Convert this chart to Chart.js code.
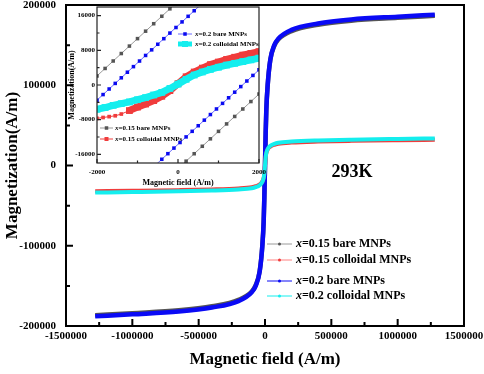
<!DOCTYPE html>
<html>
<head>
<meta charset="utf-8">
<script src="https://cdn.jsdelivr.net/npm/chart.js@4.4.1/dist/chart.umd.min.js"></script>
<style>
  body { margin: 0; background: #fff; }
  #wrap { position: relative; width: 484px; height: 374px; }
  #main { position: absolute; left: 0; top: 0; }
  #inset { position: absolute; left: 60px; top: 0; }
</style>
</head>
<body>
<div id="wrap">
  <canvas id="main" width="484" height="374"></canvas>
  <canvas id="inset" width="215" height="195"></canvas>
</div>
<script>
const FONT = "'Liberation Serif', 'Times New Roman', serif";

// main M-H loops (A/m)
const field = [-1280000, -1000000, -650000, -400000, -200000, -100000, -70000, -40000, -20000, -10000, -5000, 0,
  5000, 10000, 20000, 40000, 70000, 100000, 200000, 400000, 650000, 1000000, 1280000];
const bare015 = [-186500, -184000, -180500, -175500, -167500, -157000, -149000, -131500, -99500, -69500, -39700, 0,
  39700, 69500, 99500, 131500, 149000, 157000, 167500, 175500, 180500, 184000, 186500];
const colloid015 = [-32000, -31500, -30700, -29800, -28500, -27000, -25800, -23500, -20000, -15500, -10500, 0,
  10500, 15500, 20000, 23500, 25800, 27000, 28500, 29800, 30700, 31500, 32000];
const bare02 = [-188000, -185500, -182000, -177000, -169000, -158000, -150000, -132000, -100000, -70000, -40000, 0,
  40000, 70000, 100000, 132000, 150000, 158000, 169000, 177000, 182000, 185500, 188000];
const colloid02 = [-33700, -33100, -32200, -31200, -29800, -28300, -27000, -24500, -20500, -15500, -10000, 0,
  10000, 15500, 20500, 24500, 27000, 28300, 29800, 31200, 32200, 33100, 33700];
const labels = ['x=0.15 bare MNPs', 'x=0.15 colloidal MNPs', 'x=0.2 bare MNPs', 'x=0.2 colloidal MNPs'];
const colors = ['#555555', '#f03c3c', '#0a0af5', '#14eeee'];
const drawOrder = [4, 2, 3, 1]; // lower = on top
const xTickStep = 500000, yTickStep = 100000;

// inset: low field region
const grayUpH = [-2000, -1800, -1600, -1400, -1200, -1000, -800, -600, -400, -200, 0];
const grayUpM = [2100, 3820, 5540, 7260, 8980, 10700, 12420, 14140, 15860, 17580, 19300];
const grayDnH = [0, 200, 400, 600, 800, 1000, 1200, 1400, 1600, 1800, 2000];
const grayDnM = [-19300, -17580, -15860, -14140, -12420, -10700, -8980, -7260, -5540, -3820, -2100];
const blueUpH = [-2000, -1850, -1700, -1550, -1400, -1250, -1100, -950, -800, -650, -500, -350, -200, -50, 100, 250, 400, 550];
const blueUpM = [-3500, -2210, -920, 370, 1660, 2950, 4240, 5530, 6820, 8110, 9400, 10690, 11980, 13270, 14560, 15850, 17140, 18430];
const blueDnH = [-550, -400, -250, -100, 50, 200, 350, 500, 650, 800, 950, 1100, 1250, 1400, 1550, 1700, 1850, 2000];
const blueDnM = [-18430, -17140, -15850, -14560, -13270, -11980, -10690, -9400, -8110, -6820, -5530, -4240, -2950, -1660, -370, 920, 2210, 3500];
const redH = [-2000, -1850, -1700, -1550, -1400, -1200, -1000, -800, -600, -400, -200, 0, 200, 400, 600, 800, 1000, 1200, 1400, 1600, 1800, 2000];
const redM = [-7700, -7500, -7300, -7100, -6700, -5900, -5100, -4400, -3600, -2600, -1300, 300, 1900, 3000, 3900, 4700, 5300, 5900, 6400, 6900, 7300, 7700];
const cyanH = [-2000, -1800, -1600, -1400, -1200, -1000, -800, -600, -400, -200, 0, 200, 400, 600, 800, 1000, 1200, 1400, 1600, 1800, 2000];
const cyanM = [-5600, -5200, -4700, -4300, -3900, -3400, -2900, -2300, -1700, -800, 200, 1300, 2300, 3000, 3600, 4100, 4600, 5000, 5400, 5800, 6200];
const insetXTicks = [-2000, 0, 2000];
const insetYTicks = [-16000, -8000, 0, 8000, 16000];
const insetXStep = 2000, insetYStep = 8000;

const pts = (h, m) => h.map((v, i) => ({ x: v, y: m[i] }));

// frame + inward ticks (major and minor) on bottom and left
const frameTicks = {
  id: 'frameTicks',
  afterDatasetsDraw(chart, args, o) {
    const { ctx, chartArea: a, scales: { x, y } } = chart;
    ctx.save();
    ctx.strokeStyle = o.color;
    ctx.lineWidth = o.frame;
    ctx.strokeRect(a.left, a.top, a.right - a.left, a.bottom - a.top);
    ctx.lineWidth = o.tickWidth;
    ctx.beginPath();
    let h = o.xStep / 2;
    for (let v = Math.ceil(x.min / h) * h; v <= x.max; v += h) {
      const p = x.getPixelForValue(v);
      const len = Math.round(v / h) % 2 === 0 ? o.major : o.minor;
      ctx.moveTo(p, a.bottom); ctx.lineTo(p, a.bottom - len);
    }
    h = o.yStep / 2;
    for (let v = Math.ceil(y.min / h) * h; v <= y.max; v += h) {
      const p = y.getPixelForValue(v);
      const len = Math.round(v / h) % 2 === 0 ? o.major : o.minor;
      ctx.moveTo(a.left, p); ctx.lineTo(a.left + len, p);
    }
    ctx.stroke();
    ctx.restore();
  }
};

function drawKey(ctx, rows, o) {
  rows.forEach(r => {
    ctx.strokeStyle = r.color;
    ctx.lineWidth = r.lw;
    ctx.beginPath(); ctx.moveTo(o.x0, r.y); ctx.lineTo(o.x1, r.y); ctx.stroke();
    ctx.fillStyle = r.dot;
    const cx = (o.x0 + o.x1) / 2;
    if (o.square) ctx.fillRect(cx - r.ds / 2, r.y - r.ds / 2, r.ds, r.ds);
    else { ctx.beginPath(); ctx.arc(cx, r.y, r.ds / 2, 0, Math.PI * 2); ctx.fill(); }
    ctx.fillStyle = '#000';
    ctx.textBaseline = 'middle';
    ctx.textAlign = 'left';
    ctx.font = `italic bold ${o.size}px ${FONT}`;
    ctx.fillText('x', o.tx, r.y);
    const w = ctx.measureText('x').width;
    ctx.font = `bold ${o.size}px ${FONT}`;
    ctx.fillText(r.text.slice(1), o.tx + w, r.y);
  });
}

const mainExtras = {
  id: 'mainExtras',
  afterDraw(chart) {
    const ctx = chart.ctx;
    ctx.save();
    drawKey(ctx, [
      { text: labels[0], color: '#9a9a9a', dot: '#555', lw: 1, ds: 3, y: 244 },
      { text: labels[1], color: '#ff8080', dot: '#f03c3c', lw: 1, ds: 3, y: 260 },
      { text: labels[2], color: '#0a0af5', dot: '#0a0af5', lw: 1, ds: 3, y: 281 },
      { text: labels[3], color: '#14eeee', dot: '#14eeee', lw: 1, ds: 3, y: 296 }
    ], { x0: 267, x1: 292, tx: 296, size: 12 });
    ctx.fillStyle = '#000';
    ctx.font = `bold 18px ${FONT}`;
    ctx.textAlign = 'center';
    ctx.textBaseline = 'middle';
    ctx.fillText('293K', 352, 172);
    ctx.restore();
  }
};

const axisFont = { family: FONT, weight: 'bold', size: 11 };
const noPad = s => { s.paddingTop = 0; s.paddingBottom = 0; s.paddingLeft = 0; s.paddingRight = 0; };

new Chart(document.getElementById('main'), {
  type: 'scatter',
  data: {
    datasets: [bare015, colloid015, bare02, colloid02].map((m, i) => ({
      label: labels[i],
      data: pts(field, m),
      order: drawOrder[i],
      showLine: true,
      borderColor: colors[i],
      borderWidth: i % 2 === 0 ? 4.5 : 4,
      pointRadius: 0,
      cubicInterpolationMode: 'monotone'
    }))
  },
  options: {
    responsive: false,
    animation: false,
    layout: { padding: { top: 5, right: 20, left: 0, bottom: 0 } },
    plugins: {
      legend: { display: false },
      tooltip: { enabled: false },
      frameTicks: { color: '#000', frame: 2, tickWidth: 2, major: 7, minor: 4, xStep: xTickStep, yStep: yTickStep }
    },
    scales: {
      x: {
        type: 'linear', min: -1500000, max: 1500000,
        grid: { display: false, drawTicks: false },
        border: { display: false },
        ticks: { stepSize: xTickStep, color: '#000', font: axisFont, padding: 4, maxRotation: 0, callback: v => String(v) },
        title: { display: true, text: 'Magnetic field (A/m)', color: '#000', font: { family: FONT, weight: 'bold', size: 17 }, padding: { top: 0, bottom: 4 } },
        afterFit: s => { s.height = 48; noPad(s); }
      },
      y: {
        type: 'linear', min: -200000, max: 200000,
        grid: { display: false, drawTicks: false },
        border: { display: false },
        ticks: { stepSize: yTickStep, color: '#000', font: axisFont, padding: 10, callback: v => String(v) },
        title: { display: true, text: 'Magnetization(A/m)', color: '#000', font: { family: FONT, weight: 'bold', size: 17 }, padding: { top: 2, bottom: 0 } },
        afterFit: s => { s.width = 66; noPad(s); }
      }
    }
  },
  plugins: [frameTicks, mainExtras]
});

const insetExtras = {
  id: 'insetExtras',
  afterDraw(chart) {
    const ctx = chart.ctx;
    ctx.save();
    drawKey(ctx, [
      { text: labels[2], color: '#6a6aff', dot: '#0a0af0', lw: 1, ds: 3.5, y: 34 },
      { text: labels[3], color: '#14eeee', dot: '#14eeee', lw: 5, ds: 6, y: 44 }
    ], { x0: 118, x1: 132, tx: 135, size: 7, square: true });
    drawKey(ctx, [
      { text: labels[0], color: '#999', dot: '#555', lw: 1, ds: 3.5, y: 128 },
      { text: labels[1], color: '#f03c3c', dot: '#f03c3c', lw: 1, ds: 4, y: 139 }
    ], { x0: 40, x1: 53, tx: 55, size: 7, square: true });
    ctx.restore();
  }
};

const insetSets = [
  { h: redH, m: redM, order: 3, line: '#f03c3c', dot: '#f03c3c', lw: c => (c.p0.parsed.x < -1300 ? 1 : 7), r: c => (c.parsed && c.parsed.x < -1300 ? 2.6 : 4.8) },
  { h: cyanH, m: cyanM, order: 2, line: '#14eeee', dot: '#14eeee', lw: () => 7, r: () => 4.8 },
  { h: grayUpH, m: grayUpM, order: 1, line: '#9a9a9a', dot: '#555', lw: () => 1, r: () => 2.5 },
  { h: grayDnH, m: grayDnM, order: 1, line: '#9a9a9a', dot: '#555', lw: () => 1, r: () => 2.5 },
  { h: blueUpH, m: blueUpM, order: 1, line: '#6a6aff', dot: '#0a0af0', lw: () => 1, r: () => 2.5 },
  { h: blueDnH, m: blueDnM, order: 1, line: '#6a6aff', dot: '#0a0af0', lw: () => 1, r: () => 2.5 }
];

const insetFont = { family: FONT, weight: 'bold', size: 7 };
const fixTicks = vals => s => { s.ticks = vals.map(v => ({ value: v })); };

new Chart(document.getElementById('inset'), {
  type: 'scatter',
  data: {
    datasets: insetSets.map(s => ({
      data: pts(s.h, s.m),
      order: s.order,
      showLine: true,
      borderColor: s.line,
      borderWidth: 1,
      segment: { borderWidth: s.lw },
      pointStyle: 'rect',
      pointRadius: s.r,
      pointBorderWidth: 0,
      pointBackgroundColor: s.dot
    }))
  },
  options: {
    responsive: false,
    animation: false,
    layout: { padding: { top: 7, right: 16, left: 0, bottom: 0 } },
    plugins: {
      legend: { display: false },
      tooltip: { enabled: false },
      frameTicks: { color: '#222', frame: 1.2, tickWidth: 1.2, major: 4, minor: 2.5, xStep: insetXStep, yStep: insetYStep }
    },
    scales: {
      x: {
        type: 'linear', min: -2000, max: 2000,
        grid: { display: false, drawTicks: false },
        border: { display: false },
        afterBuildTicks: fixTicks(insetXTicks),
        ticks: { color: '#000', font: insetFont, padding: 5, maxRotation: 0, callback: v => String(v) },
        title: { display: true, text: 'Magnetic field (A/m)', color: '#000', font: { family: FONT, weight: 'bold', size: 8 }, padding: { top: 0, bottom: 7 } },
        afterFit: s => { s.height = 32; noPad(s); }
      },
      y: {
        type: 'linear', min: -18000, max: 18000,
        grid: { display: false, drawTicks: false },
        border: { display: false },
        afterBuildTicks: fixTicks(insetYTicks),
        ticks: { color: '#000', font: insetFont, padding: 2, callback: v => String(v) },
        title: { display: true, text: 'Magnetization(A/m)', color: '#000', font: { family: FONT, weight: 'bold', size: 8 }, padding: { top: 7, bottom: 0 } },
        afterFit: s => { s.width = 37; noPad(s); }
      }
    }
  },
  plugins: [frameTicks, insetExtras]
});
</script>
</body>
</html>
